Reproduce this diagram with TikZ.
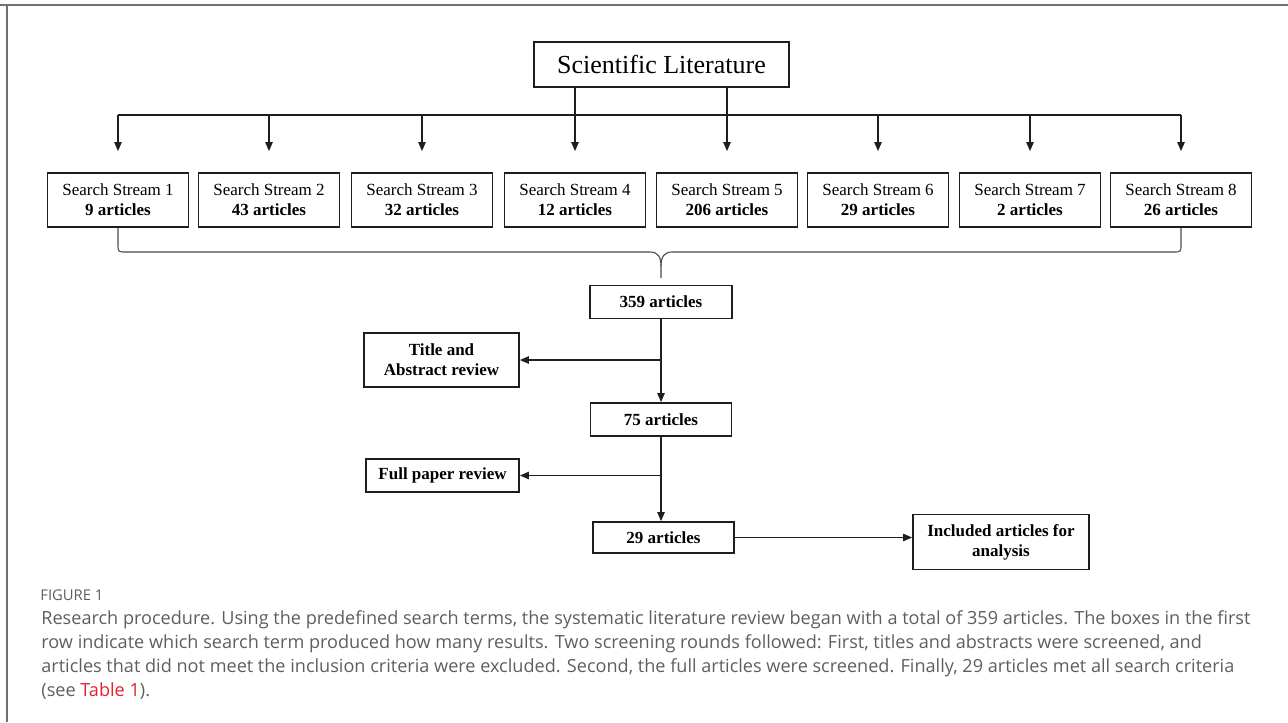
\documentclass[tikz,border=0pt]{standalone}
\usepackage{fontspec}
\setmainfont{Liberation Serif}
\newfontfamily\capfont{Open Sans}
\usetikzlibrary{arrows.meta}
\usepackage{xcolor}
\definecolor{capgray}{HTML}{5E5E5E}
\definecolor{framegray}{HTML}{707070}
\definecolor{linkred}{HTML}{E2232E}
\definecolor{boxline}{HTML}{1E1E1E}
\tikzset{
  box/.style={draw=boxline, line width=0.8pt, inner sep=0pt, align=center,
    font=\fontsize{8.5}{10}\selectfont},
  boldbox/.style={box, font=\fontsize{8.5}{10}\selectfont\bfseries},
  arr/.style={line width=0.8pt, boxline, -{Triangle[length=4.5pt,width=3.6pt]}},
  ln/.style={line width=0.8pt, boxline},
  brace/.style={line width=0.55pt, black!70}
}

\begin{document}
\begin{tikzpicture}[x=0.5pt, y=-0.5pt]
  \useasboundingbox (0,0) rectangle (1288,722);

  % frame of the figure
  \draw[framegray, line width=0.8pt] (0,5) -- (1288,5);
  \draw[framegray, line width=0.8pt] (7,5) -- (7,722);

  \node[box, minimum width=127.5pt, minimum height=22.5pt,
    font=\fontsize{13}{15}\selectfont] (lit) at (661.5,64.5) {Scientific Literature};

  % the eight search streams
  \foreach \i/\x/\n in {1/118/9, 2/269/43, 3/422/32, 4/575/12,
                        5/727/206, 6/878/29, 7/1030/2, 8/1181/26}
    \node[box, minimum width=70.5pt, minimum height=27pt] (s\i) at (\x,200)
      {Search Stream \i\\\textbf{\n{} articles}};

  \coordinate (bus) at (0,115);
  \draw[ln] (s1.north |- bus) -- (s8.north |- bus);
  \foreach \i in {1,2,3,6,7,8}
    \draw[arr] (s\i.north |- bus) -- ([yshift=10.5pt]s\i.north);
  \draw[arr] (lit.south -| s4.north) -- ([yshift=10.5pt]s4.north);
  \draw[arr] (lit.south -| s5.north) -- ([yshift=10.5pt]s5.north);

  % brace joining the streams
  \coordinate (tip) at (661,278);
  \draw[brace] (s1.south) -- (118,244) .. controls (118,252) .. (126,252)
    -- (650,252) .. controls (658,252) and (661,257) .. (661,266) -- (tip);
  \draw[brace] (s8.south) -- (1181,244) .. controls (1181,252) .. (1173,252)
    -- (672,252) .. controls (664,252) and (661,257) .. (661,266);

  % screening
  \node[boldbox, minimum width=71pt, minimum height=16.5pt] (n359) at (661,302) {359 articles};
  \node[boldbox, minimum width=77.5pt, minimum height=27pt] (rev1) at (441.5,360) {Title and\\Abstract review};
  \node[boldbox, minimum width=70.5pt, minimum height=16.5pt] (n75) at (661,419.5) {75 articles};
  \node[boldbox, minimum width=76.5pt, minimum height=16.5pt] (rev2) at (442.5,475.5) {Full paper review};
  \node[boldbox, minimum width=70.5pt, minimum height=15.5pt] (n29) at (663.5,537.5) {29 articles};
  \node[boldbox, minimum width=88pt, minimum height=27.5pt] (inc) at (1001,542) {Included articles for\\analysis};

  \draw[arr] (n359.south) -- (n359.south |- n75.north);
  \draw[arr] (n359.south |- rev1.east) -- (rev1.east);
  \draw[arr] (n75.south) -- (n75.south |- n29.north);
  \draw[arr] (n75.south |- rev2.east) -- (rev2.east);
  \draw[arr] (n29.east) -- (inc.west |- n29.east);

  % caption
  \node[anchor=base west, inner sep=0pt, text=capgray,
    font=\capfont\fontsize{7.4}{8}\selectfont] (fig) at (40,600) {FIGURE 1};
  \node[anchor=north west, inner sep=0pt, align=left, text=capgray,
    font=\capfont\fontsize{9.05}{12}\selectfont] (cap) at (41,610)
    {Research procedure. Using the predefined search terms, the systematic literature review began with a total of 359 articles. The boxes in the first\\
     row indicate which search term produced how many results. Two screening rounds followed: First, titles and abstracts were screened, and\\
     articles that did not meet the inclusion criteria were excluded. Second, the full articles were screened. Finally, 29 articles met all search criteria\\
     (see \textcolor{linkred}{Table 1}).};
\end{tikzpicture}
\end{document}
